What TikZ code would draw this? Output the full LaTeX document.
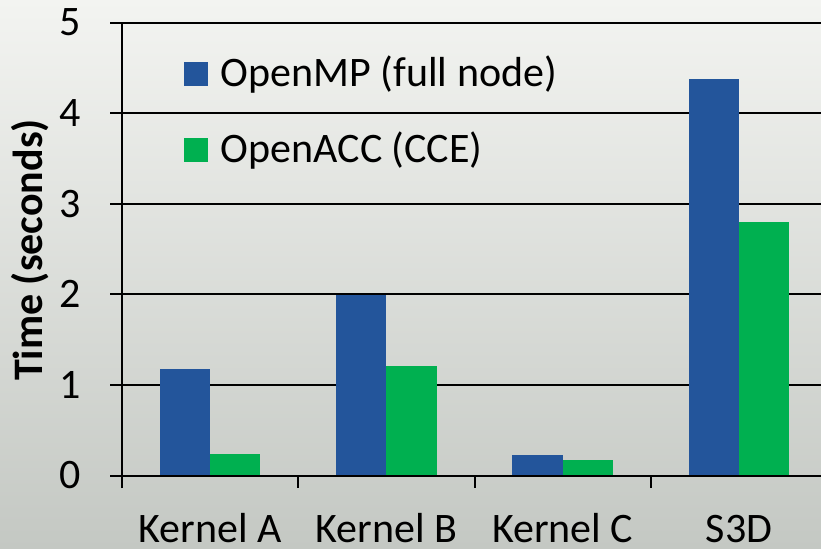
\documentclass[tikz,border=0pt]{standalone}
\usepackage{fontspec}
\setmainfont{Carlito}
\usetikzlibrary{positioning}

\definecolor{mpblue}{RGB}{35,85,155}
\definecolor{accgreen}{RGB}{0,176,80}
\definecolor{bgtop}{RGB}{243,244,241}
\definecolor{bgmid}{RGB}{225,227,223}
\definecolor{bgbot}{RGB}{196,200,195}

\tikzset{
  gridline/.style={black, line width=1pt},
  bar/.style={draw=none},
  ticklabel/.style={anchor=east, inner sep=0pt},
  catlabel/.style={anchor=base, inner sep=0pt},
  legbox/.style={rectangle, minimum size=12pt, inner sep=0pt, draw=none},
  legtext/.style={inner sep=0pt}
}

\begin{document}
\begin{tikzpicture}[x=0.5pt, y=-0.5pt, font=\fontsize{21}{25}\selectfont]
% background
\shade[top color=bgtop, middle color=bgmid, bottom color=bgbot] (0,0) rectangle (821,548);
\useasboundingbox (0,0) rectangle (821,548);

% y axis title
\node[rotate=90, anchor=base, inner sep=0pt, font=\fontsize{21}{25}\selectfont\bfseries] (ytitle) at (42,250) {Time (seconds)};

% plot area, one unit = one category / one second
\begin{scope}[shift={(122,475.5)}, x=88.15pt, y=45.3pt]
  \foreach \v in {1,...,5}
    \draw[gridline] (-0.068,\v) -- (3.965,\v);
  \foreach \v in {0,...,5}
    \node[ticklabel] (tick\v) at (-0.233,\v) {\v};
  % bars: category, OpenMP, OpenACC
  \foreach \c/\mp/\acc in {0/1.175/0.234, 1/1.99/1.21, 2/0.226/0.168, 3/4.373/2.80} {
    \fill[bar, mpblue] (\c+0.2147,0) rectangle (\c+0.5,\mp);
    \fill[bar, accgreen] (\c+0.5,0) rectangle (\c+0.7853,\acc);
  }
  % axes
  \draw[gridline] (0,-0.138) -- (0,5);
  \draw[gridline] (-0.068,0) -- (3.965,0);
  \foreach \c in {1,2,3}
    \draw[gridline] (\c,0) -- (\c,-0.138);
  \foreach \c/\name in {0/Kernel A, 1/Kernel B, 2/Kernel C, 3/S3D}
    \node[catlabel] (cat\c) at (\c+0.5,-0.734) {\name};
\end{scope}

% legend
\node[legbox, fill=mpblue] (keymp) at (196,74) {};
\node[legtext, right=6pt of keymp.south east, anchor=base west] (txtmp) {OpenMP (full node)};
\node[legbox, fill=accgreen] (keyacc) at (196,150) {};
\node[legtext, right=6pt of keyacc.south east, anchor=base west] (txtacc) {OpenACC (CCE)};
\end{tikzpicture}
\end{document}
